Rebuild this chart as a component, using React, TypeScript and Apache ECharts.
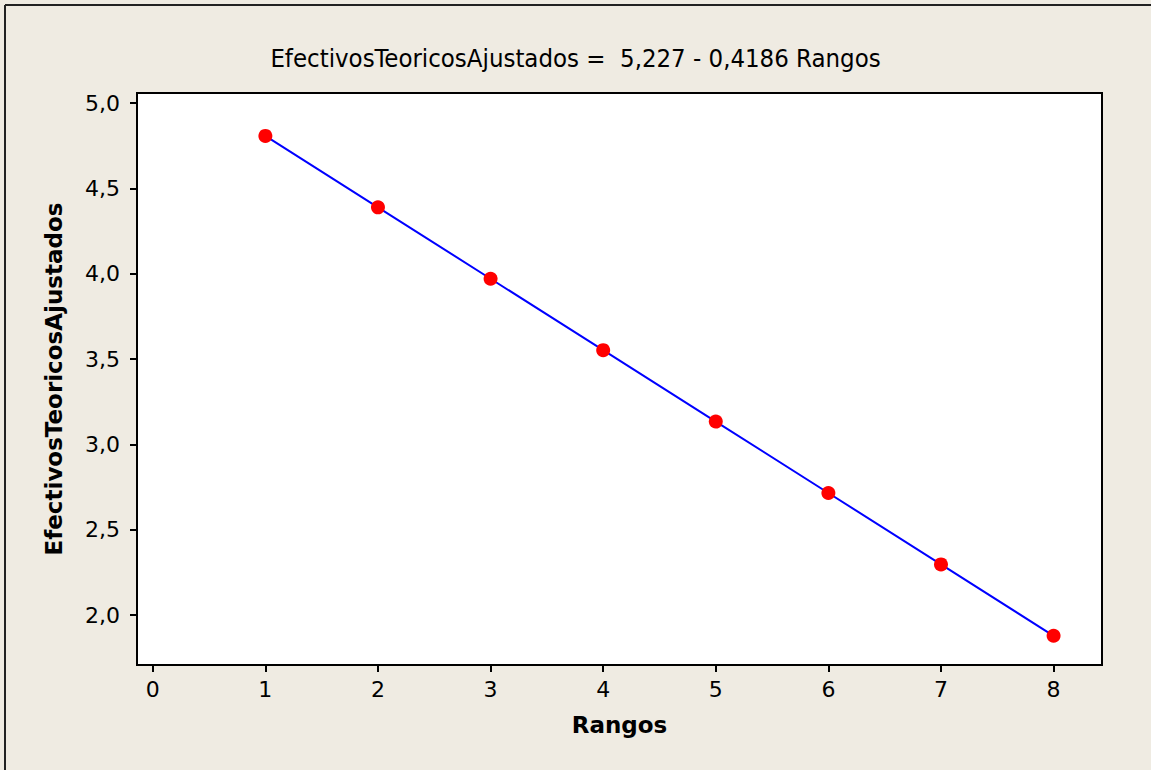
import React, { useEffect, useRef } from "react";
import * as echarts from "echarts";

// Ranks and their fitted values from the regression line
const ranks = [1, 2, 3, 4, 5, 6, 7, 8];
const fitted = [4.8084, 4.3898, 3.9712, 3.5526, 3.134, 2.7154, 2.2968, 1.8782];
const xTickValues = [0, 1, 2, 3, 4, 5, 6, 7, 8];
const yTickValues = [2.0, 2.5, 3.0, 3.5, 4.0, 4.5, 5.0];

const titleText = "EfectivosTeoricosAjustados =  5,227 - 0,4186 Rangos";
const xName = "Rangos";
const yName = "EfectivosTeoricosAjustados";

const FONT = "'DejaVu Sans', sans-serif";
const TITLE_FONT = "'DejaVu Sans Condensed', 'DejaVu Sans', sans-serif";

export default function App() {
  const ref = useRef<HTMLDivElement>(null);

  useEffect(() => {
    if (!ref.current) return;
    const chart = echarts.init(ref.current, undefined, { renderer: "svg" });
    const points = ranks.map((r, i) => [r, fitted[i]]);
    chart.setOption({
      animation: false,
      backgroundColor: "#EFEBE2",
      textStyle: { fontFamily: FONT },
      title: {
        text: titleText,
        left: "center",
        top: 40,
        textStyle: { fontFamily: TITLE_FONT, fontSize: 25.5, fontWeight: "normal", color: "#000" },
      },
      graphic: [
        { type: "line", shape: { x1: 5, y1: 5, x2: 1151, y2: 5 }, style: { stroke: "#222", lineWidth: 2 } },
        { type: "line", shape: { x1: 5, y1: 5, x2: 5, y2: 770 }, style: { stroke: "#222", lineWidth: 2 } },
      ],
      grid: {
        left: 137,
        top: 93,
        right: 49,
        bottom: 105,
        show: true,
        backgroundColor: "#ffffff",
        borderColor: "#000",
        borderWidth: 2,
      },
      xAxis: {
        type: "value",
        min: -0.14,
        max: 8.43,
        name: xName,
        nameLocation: "middle",
        nameGap: 48,
        nameTextStyle: { fontFamily: FONT, fontSize: 23, fontWeight: "bold", color: "#000" },
        axisLine: { show: false, onZero: false },
        splitLine: { show: false },
        axisTick: {
          show: true,
          customValues: xTickValues,
          length: 7,
          lineStyle: { color: "#000", width: 2 },
        },
        axisLabel: {
          customValues: xTickValues,
          fontSize: 22,
          color: "#000",
          margin: 13,
          fontFamily: FONT,
          formatter: (v: number) => String(v),
        },
      },
      yAxis: {
        type: "value",
        min: 1.707,
        max: 5.06,
        name: yName,
        nameLocation: "middle",
        nameGap: 72,
        nameTextStyle: { fontFamily: FONT, fontSize: 23, fontWeight: "bold", color: "#000" },
        axisLine: { show: false, onZero: false },
        splitLine: { show: false },
        axisTick: {
          show: true,
          customValues: yTickValues,
          length: 7,
          lineStyle: { color: "#000", width: 2 },
        },
        axisLabel: {
          customValues: yTickValues,
          fontSize: 22,
          color: "#000",
          margin: 17,
          fontFamily: FONT,
          formatter: (v: number) => v.toFixed(1).replace(".", ","),
        },
      },
      series: [
        {
          type: "line",
          data: points,
          symbol: "none",
          lineStyle: { color: "#0000ff", width: 2 },
          z: 2,
        },
        {
          type: "scatter",
          data: points,
          symbol: "circle",
          symbolSize: 14,
          itemStyle: { color: "#ff0000", opacity: 1 },
          z: 3,
        },
      ],
    });
    return () => chart.dispose();
  }, []);

  return (
    <div
      ref={ref}
      style={{ position: "absolute", left: 0, top: 0, width: 1151, height: 770 }}
    />
  );
}
